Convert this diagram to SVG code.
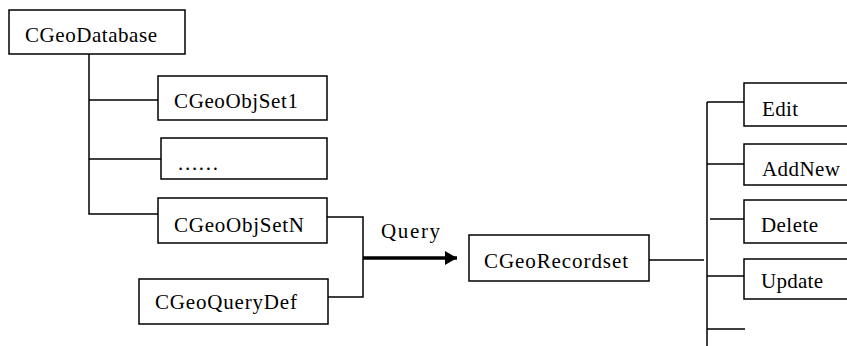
<svg xmlns="http://www.w3.org/2000/svg" width="847" height="346" viewBox="0 0 847 346">
<style>
.box{fill:#fff;stroke:#000;stroke-width:1.5}
.ln{fill:none;stroke:#000;stroke-width:1.5}
.t{font-family:"Liberation Serif","Times New Roman",serif;font-size:21px;fill:#000}
</style>
<defs>
<marker id="ah" markerUnits="userSpaceOnUse" markerWidth="14" markerHeight="16" refX="12" refY="7" orient="auto">
<path d="M0,0 L12,7 L0,14 Z" fill="#000"/>
</marker>
</defs>
<rect width="847" height="346" fill="#fff"/>
<g id="connectors">
<path class="ln" d="M89,54 V214 H158 M89,100 H158 M89,159 H161"/>
<path class="ln" d="M327,217 H363 V297 H328"/>
<path d="M363,258 H457" stroke="#000" stroke-width="3.5" fill="none" marker-end="url(#ah)"/>
<path class="ln" d="M649,260 H704"/>
<path class="ln" d="M707,102 V346 M707,102 H744 M707,164 H744 M710,219 H744 M707,276 H744 M707,329 H745"/>
<text class="t" x="381" y="238" textLength="59">Query</text>
</g>
<g id="CGeoDatabase"><rect class="box" x="9" y="10" width="176" height="44"/><text class="t" x="25" y="42" textLength="132">CGeoDatabase</text></g>
<g id="CGeoObjSet1"><rect class="box" x="158" y="76" width="169" height="44"/><text class="t" x="174" y="108" textLength="124">CGeoObjSet1</text></g>
<g id="ellipsis"><rect class="box" x="161" y="138" width="166" height="41"/><text class="t" x="178" y="170" textLength="40">......</text></g>
<g id="CGeoObjSetN"><rect class="box" x="158" y="198" width="169" height="45"/><text class="t" x="174" y="232" textLength="130">CGeoObjSetN</text></g>
<g id="CGeoQueryDef"><rect class="box" x="139" y="279" width="189" height="45"/><text class="t" x="155" y="309" textLength="142">CGeoQueryDef</text></g>
<g id="CGeoRecordset"><rect class="box" x="469" y="235" width="180" height="46"/><text class="t" x="484" y="268" textLength="144">CGeoRecordset</text></g>
<g id="Edit"><rect class="box" x="744" y="83" width="120" height="43"/><text class="t" x="762" y="116" textLength="36">Edit</text></g>
<g id="AddNew"><rect class="box" x="744" y="144" width="120" height="41"/><text class="t" x="762" y="176" textLength="78">AddNew</text></g>
<g id="Delete"><rect class="box" x="744" y="200" width="120" height="43"/><text class="t" x="761" y="232" textLength="57">Delete</text></g>
<g id="Update"><rect class="box" x="744" y="259" width="120" height="40"/><text class="t" x="761" y="288" textLength="62">Update</text></g>
</svg>
